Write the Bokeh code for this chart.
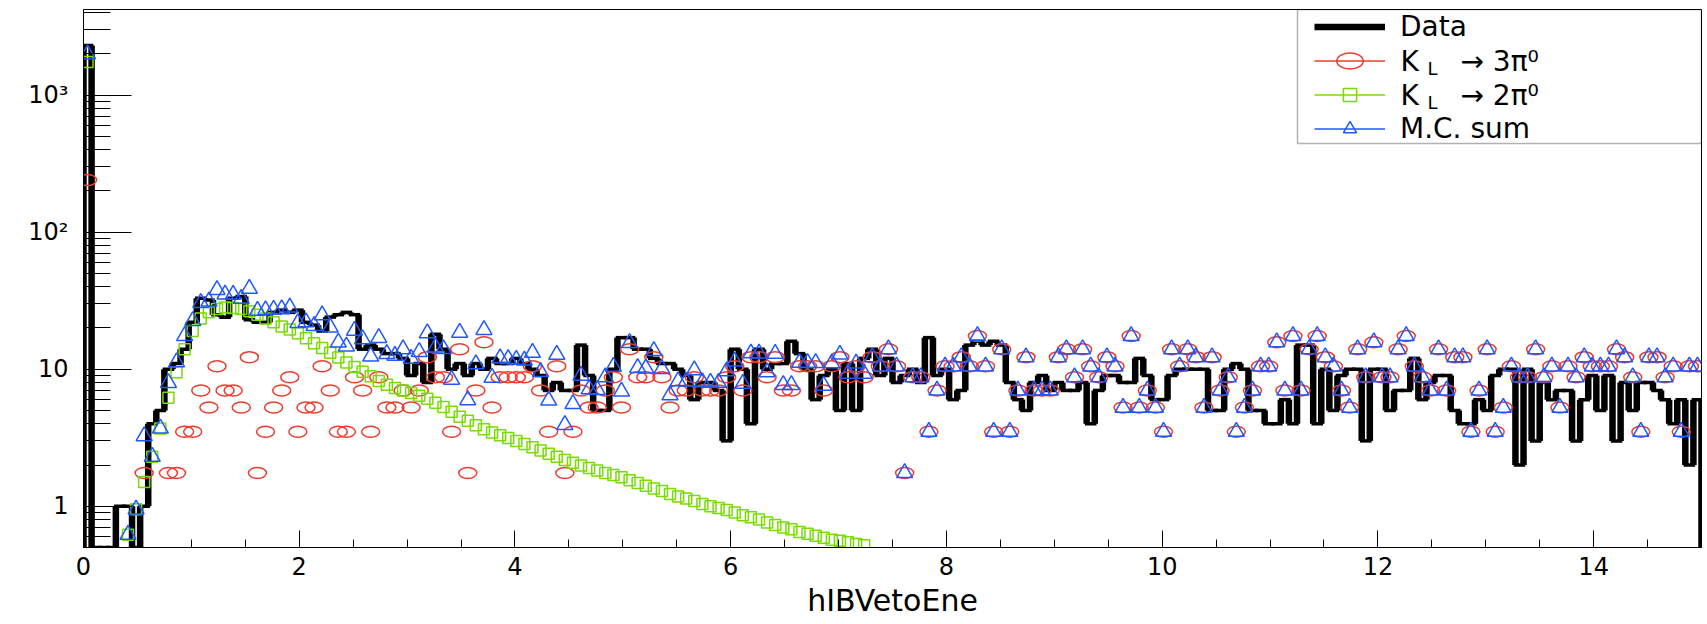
import numpy as np
from bokeh.plotting import figure
from bokeh.models import (Range1d, SingleIntervalTicker, FixedTicker, Legend,
                          LegendItem, Label, BoxAnnotation)
from bokeh.core.properties import value
from bokeh.embed import file_html
from bokeh.resources import INLINE

# ---------------- binning / ranges ----------------
x_lo, x_hi, n_bins = 0.0, 15.0, 200
y_lo, y_hi = 0.5, 4220.0

x_title = "hIBVetoEne"
y_major_ticks = [1, 10, 100, 1000]
y_major_labels = ["1", "10", "10\u00b2", "10\u00b3"]
y_minor_ticks = [0.5, 0.6, 0.7, 0.8, 0.9,
                 2, 3, 4, 5, 6, 7, 8, 9,
                 20, 30, 40, 50, 60, 70, 80, 90,
                 200, 300, 400, 500, 600, 700, 800, 900,
                 2000, 3000, 4000]

# ---------------- series (bin contents, 200 bins of 0.075) ----------------
data_counts = [
    2300, 0, 0, 0, 1, 1, 0, 1, 4, 5,
    10, 11, 14, 22, 33, 32, 25, 24, 33, 34,
    23, 22, 22, 26, 27, 26, 27, 22, 21, 19,
    24, 25, 26, 25, 14, 15, 14, 13, 13, 12,
    9, 11, 8, 18, 14, 10, 11, 9, 11, 10,
    12, 11, 11, 12, 11, 10, 9, 7, 8, 7,
    7, 15, 9, 5, 5, 10, 17, 17, 14, 14,
    12, 11, 11, 10, 9, 6, 8, 8, 7, 3,
    14, 10, 4, 14, 10, 11, 11, 16, 13, 10,
    6, 9, 10, 5, 11, 5, 12, 14, 9, 12,
    8, 9, 10, 8, 17, 9, 10, 6, 7, 15,
    16, 15, 16, 15, 8, 6, 5, 8, 9, 7,
    8, 7, 7, 8, 4, 7, 9, 9, 8, 8,
    12, 9, 6, 6, 9, 10, 10, 10, 10, 5,
    5, 10, 11, 10, 5, 5, 4, 4, 6, 4,
    15, 15, 4, 10, 5, 9, 10, 10, 3, 10,
    10, 5, 7, 7, 12, 6, 8, 9, 9, 5,
    4, 4, 6, 5, 9, 10, 10, 2, 10, 3,
    8, 6, 7, 7, 3, 6, 9, 5, 9, 3,
    8, 5, 8, 8, 7, 6, 4, 6, 2, 6,
]

kl_3pi0 = [
    240, 0, 0, 0, 0, 0, 0, 1.75, 0, 0,
    1.75, 1.75, 3.5, 3.5, 7, 5.25, 10.5, 7, 7, 5.25,
    12.25, 1.75, 3.5, 5.25, 7, 8.75, 3.5, 5.25, 5.25, 10.5,
    7, 3.5, 3.5, 8.75, 7, 3.5, 8.75, 5.25, 5.25, 7,
    5.25, 7, 12.25, 8.75, 8.75, 3.5, 14, 1.75, 7, 15.75,
    5.25, 8.75, 8.75, 8.75, 8.75, 10.5, 7, 3.5, 10.5, 1.75,
    3.5, 7, 5.25, 5.25, 7, 8.75, 5.25, 14, 8.75, 8.75,
    12.25, 8.75, 5.25, 7, 7, 8.75, 7, 7, 7, 8.75,
    10.5, 7, 12.25, 12.25, 8.75, 12.25, 7, 7, 10.5, 10.5,
    10.5, 7, 10.5, 12.25, 8.75, 10.5, 8.75, 12.25, 10.5, 14,
    10.5, 1.75, 8.75, 8.75, 3.5, 7, 10.5, 10.5, 12.25, 10.5,
    17.5, 10.5, 3.5, 14, 3.5, 7, 12.25, 7, 7, 7,
    12.25, 14, 8.75, 14, 10.5, 8.75, 12.25, 10.5, 5.25, 17.5,
    5.25, 7, 5.25, 3.5, 14, 10.5, 14, 12.25, 5.25, 12.25,
    7, 8.75, 3.5, 5.25, 7, 10.5, 10.5, 15.75, 7, 17.5,
    7, 14, 17.5, 12.25, 10.5, 7, 5.25, 14, 8.75, 15.75,
    8.75, 8.75, 14, 17.5, 10.5, 8.75, 7, 14, 7, 12.25,
    12.25, 3.5, 7, 14, 3.5, 5.25, 10.5, 8.75, 8.75, 14,
    8.75, 10.5, 5.25, 10.5, 8.75, 12.25, 10.5, 10.5, 10.5, 14,
    12.25, 8.75, 3.5, 12.25, 12.25, 8.75, 10.5, 3.5, 10.5, 10.5,
]

# K_L -> 2pi0: filled bins 0..96, the remaining bins are empty
kl_2pi0_filled = [
    1750, 0, 0, 0, 0, 0.62, 0.95, 1.5, 2.3, 3.7,
    6.2, 9.5, 14, 19, 23.5, 26, 27.5, 28.2, 28, 27.5,
    26.5, 25, 23.5, 22, 20.5, 19.5, 18.3, 16.8, 15.5, 14.3,
    13.2, 12.2, 11.2, 10.4, 9.6, 8.9, 8.2, 7.7, 7.3, 7.0,
    6.7, 6.4, 6.1, 5.7, 5.3, 4.9, 4.5, 4.2, 3.9, 3.65,
    3.45, 3.3, 3.15, 3.0, 2.85, 2.7, 2.55, 2.42, 2.3, 2.18,
    2.08, 1.98, 1.9, 1.82, 1.75, 1.69, 1.63, 1.55, 1.48, 1.41,
    1.35, 1.29, 1.23, 1.18, 1.14, 1.09, 1.04, 1.0, 0.97, 0.94,
    0.9, 0.86, 0.83, 0.8, 0.76, 0.73, 0.7, 0.68, 0.65, 0.63,
    0.61, 0.59, 0.57, 0.56, 0.545, 0.53, 0.52,
]

# ---------------- styling ----------------
RED = "#ee3b2b"
GREEN = "#78dc00"
BLUE = "#2058ff"
FONT = "DejaVu Sans"

W, H = 1707, 624
B_LEFT, B_RIGHT, B_TOP, B_BOTTOM = 83, 6, 9, 77

edges = np.linspace(x_lo, x_hi, n_bins + 1)
centers = 0.5 * (edges[:-1] + edges[1:])

data = np.asarray(data_counts, dtype=float)
red = np.asarray(kl_3pi0, dtype=float)
green = np.zeros(n_bins)
green[:len(kl_2pi0_filled)] = kl_2pi0_filled
mc_sum = red + green   # M.C. sum = K_L->3pi0 + K_L->2pi0

# empty bins are drawn on the bottom of the log frame (as ROOT does)
d_plot = np.where(data > y_lo, data, y_lo)

p = figure(width=W, height=H,
           x_range=Range1d(x_lo, x_hi), y_range=Range1d(y_lo, y_hi),
           y_axis_type="log", output_backend="svg", toolbar_location=None,
           title=None, min_border_left=B_LEFT, min_border_right=B_RIGHT,
           min_border_top=B_TOP, min_border_bottom=B_BOTTOM)
p.background_fill_color = "white"
p.border_fill_color = "white"
p.outline_line_color = "black"
p.outline_line_width = 1
p.xgrid.visible = False
p.ygrid.visible = False

# ---------------- Data histogram (thick step outline) ----------------
h_seg = p.segment(x0=edges[:-1], y0=d_plot, x1=edges[1:], y1=d_plot,
                  line_color="black", line_width=3.5, line_cap="square")
y_before = np.concatenate([[y_lo], d_plot])
y_after = np.concatenate([d_plot, [y_lo]])
v_seg = p.segment(x0=edges, y0=y_before, x1=edges, y1=y_after,
                  line_color="black", line_width=6.5)

# ---------------- MC markers ----------------
m_r = red > 0
red_r = p.ellipse(x=centers[m_r], y=red[m_r], width=18, height=11,
                  width_units="screen", height_units="screen",
                  fill_color=None, line_color=RED, line_width=1.5)
m_g = green > 0
green_r = p.scatter(x=centers[m_g], y=green[m_g], marker="square", size=11,
                    fill_color=None, line_color=GREEN, line_width=1.5)
m_b = mc_sum > 0
blue_r = p.scatter(x=centers[m_b], y=mc_sum[m_b], marker="triangle", size=16,
                   fill_color=None, line_color=BLUE, line_width=1.5)

# one-point lines: invisible in the plot, give the legend its line sample
red_stub = p.line(x=centers[:1], y=red[:1], line_color=RED, line_width=1.5)
green_stub = p.line(x=centers[:1], y=green[:1], line_color=GREEN, line_width=1.5)
blue_stub = p.line(x=centers[:1], y=mc_sum[:1], line_color=BLUE, line_width=1.5)

# ---------------- axes ----------------
xa = p.xaxis[0]
xa.ticker = SingleIntervalTicker(interval=2, num_minor_ticks=4)
xa.major_tick_in = 17
xa.major_tick_out = 0
xa.minor_tick_in = 8
xa.minor_tick_out = 0
xa.axis_line_color = "black"
xa.major_label_text_font = FONT
xa.major_label_text_font_size = "24px"
xa.major_label_text_color = "black"
xa.major_label_standoff = 9
xa.axis_label = x_title
xa.axis_label_text_font = FONT
xa.axis_label_text_font_size = "30px"
xa.axis_label_text_font_style = "normal"
xa.axis_label_text_color = "black"
xa.axis_label_standoff = 5

ya = p.yaxis[0]
ya.ticker = FixedTicker(ticks=y_major_ticks, minor_ticks=y_minor_ticks)
ya.major_label_overrides = {t: s for t, s in zip(y_major_ticks, y_major_labels)}
ya.major_tick_in = 48
ya.major_tick_out = 0
ya.minor_tick_in = 27
ya.minor_tick_out = 0
ya.axis_line_color = "black"
ya.major_label_text_font = FONT
ya.major_label_text_font_size = "24px"
ya.major_label_text_color = "black"
ya.major_label_standoff = 15

# ---------------- legend ----------------
frame_w, frame_h = W - B_LEFT - B_RIGHT, H - B_TOP - B_BOTTOM


def fx(px):
    """px from the frame's left edge -> x data value"""
    return x_lo + px / frame_w * (x_hi - x_lo)


def fy(py):
    """px from the frame's top edge -> y data value (log axis)"""
    lt, lb = np.log10(y_hi), np.log10(y_lo)
    return 10 ** (lt - py / frame_h * (lt - lb))


leg_pad, leg_h, leg_sp = 1, 33, 1
leg_gw, leg_standoff, leg_lw = 71, 15, 300
legend = Legend(items=[
    LegendItem(label=value("Data"), renderers=[v_seg]),
    LegendItem(label=value(""), renderers=[red_stub, red_r]),
    LegendItem(label=value(""), renderers=[green_stub, green_r]),
    LegendItem(label=value("M.C. sum"), renderers=[blue_stub, blue_r]),
], location="top_right", margin=0, padding=leg_pad, spacing=leg_sp,
    glyph_width=leg_gw, glyph_height=leg_h, label_width=leg_lw,
    label_height=leg_h, label_standoff=leg_standoff,
    label_text_font=FONT, label_text_font_size="28px",
    label_text_color="black",
    border_line_alpha=0.0, background_fill_alpha=0.0)
p.add_layout(legend)

# legend frame (ROOT TLegend box)
p.add_layout(BoxAnnotation(left=fx(1297 - B_LEFT), right=x_hi,
                           bottom=fy(143 - B_TOP), top=y_hi,
                           fill_alpha=0.0, line_color="black", line_width=1.5))

# K_L entry texts (need a subscript)
leg_width = 2 * leg_pad + leg_gw + leg_standoff + leg_lw


def add_text(txt, px, py, size="28px"):
    p.add_layout(Label(x=fx(px), y=fy(py), text=txt, text_font=FONT,
                       text_font_size=size, text_color="black",
                       text_align="left", text_baseline="middle",
                       level="overlay"))


text_x = frame_w - leg_width + leg_pad + leg_gw + leg_standoff
rows = [leg_pad + leg_h / 2 + i * (leg_h + leg_sp) for i in range(4)]

for row, decay in ((rows[1], "\u2192 3\u03c0\u2070"), (rows[2], "\u2192 2\u03c0\u2070")):
    add_text("K", text_x, row)
    add_text("L", text_x + 27, row + 7, size="18px")
    add_text(decay, text_x + 60, row)

open("out.html", "w").write(file_html(p, INLINE))
